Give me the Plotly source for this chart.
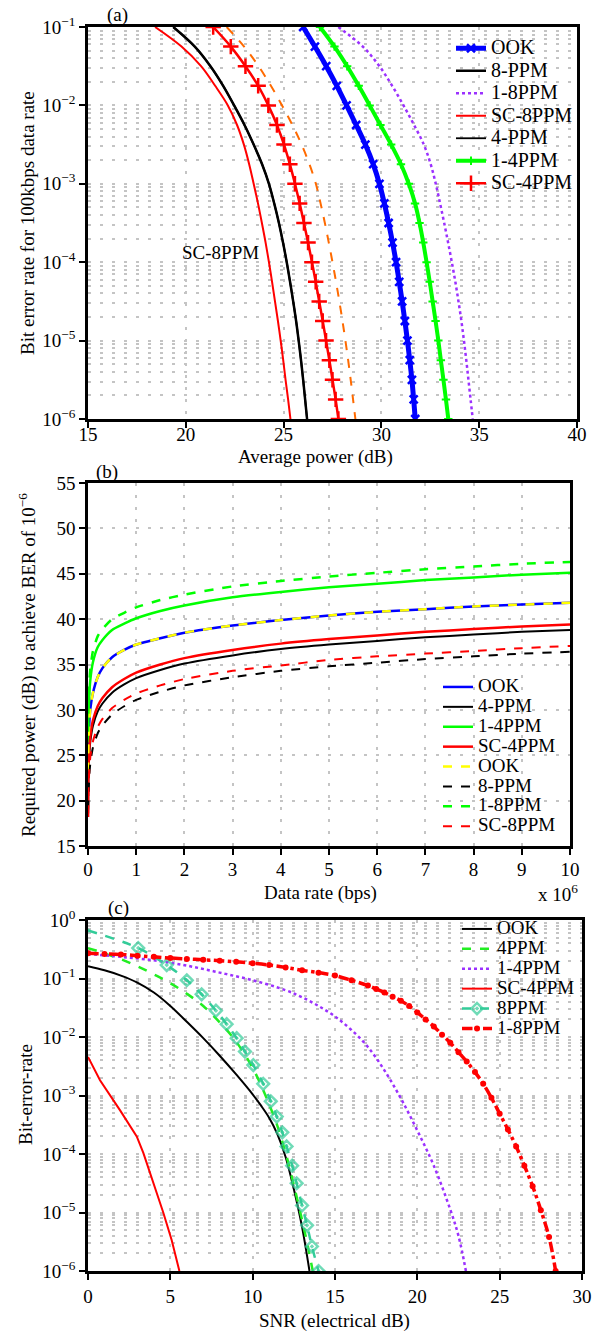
import numpy as np
import plotly.graph_objects as go

W, H = 597, 1334
FONT = "Liberation Serif"

# ---------------- Panel (a): BER vs average power ----------------
ber_exp_a = [-1, -1.25, -1.5, -1.75, -2, -2.25, -2.5, -2.75, -3, -3.25, -3.5,
             -3.75, -4, -4.25, -4.5, -4.75, -5, -5.25, -5.5, -5.75, -6]
pwr_ook_a = [26.0, 26.6, 27.18, 27.72, 28.22, 28.71, 29.18, 29.58, 29.9, 30.15, 30.37,
             30.57, 30.75, 30.91, 31.06, 31.2, 31.33, 31.45, 31.56, 31.65, 31.73]
pwr_8ppm_a = [19.36, 20.46, 21.26, 21.91, 22.47, 23.0, 23.47, 23.9, 24.25, 24.52, 24.76,
              24.97, 25.16, 25.33, 25.49, 25.64, 25.77, 25.89, 26.0, 26.1, 26.2]
pwr_4ppm_a = [19.36, 20.46, 21.26, 21.91, 22.47, 23.0, 23.47, 23.9, 24.25, 24.52, 24.76,
              24.97, 25.16, 25.33, 25.49, 25.64, 25.77, 25.89, 26.0, 26.1, 26.2]
pwr_1_8ppm_a = [27.8, 29.05, 29.9, 30.55, 31.13, 31.67, 32.17, 32.52, 32.78, 33.0, 33.21,
                33.41, 33.6, 33.78, 33.94, 34.09, 34.22, 34.34, 34.45, 34.56, 34.67]
pwr_sc8ppm_a = [18.43, 19.78, 20.78, 21.5, 22.15, 22.62, 22.97, 23.24, 23.47, 23.69, 23.89,
                24.08, 24.25, 24.41, 24.56, 24.71, 24.85, 24.98, 25.1, 25.23, 25.35]
pwr_1_4ppm_a = [26.86, 27.6, 28.25, 28.84, 29.4, 29.95, 30.5, 31.0, 31.4, 31.72, 31.95,
                32.14, 32.31, 32.47, 32.62, 32.77, 32.91, 33.04, 33.17, 33.3, 33.42]
pwr_sc4ppm_a = [21.4, 22.3, 23.05, 23.7, 24.22, 24.66, 25.02, 25.32, 25.58, 25.82, 26.04,
                26.25, 26.45, 26.64, 26.82, 27.0, 27.17, 27.34, 27.5, 27.66, 27.8]
pwr_orange_a = [22.09, 22.98, 23.72, 24.35, 24.92, 25.45, 25.92, 26.32, 26.65, 26.89, 27.11,
                27.31, 27.5, 27.68, 27.85, 28.01, 28.16, 28.3, 28.43, 28.55, 28.67]
xticks_a = [15, 20, 25, 30, 35, 40]
yexp_a = [-6, -5, -4, -3, -2, -1]
ytext_a = ["10<sup>−6</sup>", "10<sup>−5</sup>", "10<sup>−4</sup>", "10<sup>−3</sup>",
           "10<sup>−2</sup>", "10<sup>−1</sup>"]

# ---------------- Panel (b): required power vs data rate (x 1e6 bps) ----------------
rate_b = [0.002, 0.01, 0.03, 0.05, 0.1, 0.2, 0.3, 0.5, 0.75, 1, 1.5, 2, 3, 4, 5, 6, 7, 8, 9, 10]
req_1_4ppm_b = [26.4, 29.4, 32.0, 33.4, 35.2, 36.9, 37.7, 38.8, 39.5, 40.1, 40.9, 41.5, 42.4, 43.0, 43.5, 43.9, 44.3, 44.6, 44.9, 45.1]
req_1_8ppm_b = [27.6, 30.6, 33.2, 34.6, 36.4, 38.1, 38.9, 40.0, 40.7, 41.3, 42.1, 42.7, 43.6, 44.2, 44.7, 45.1, 45.5, 45.8, 46.1, 46.3]
req_ook_b = [23.2, 26.5, 28.9, 30.2, 31.8, 33.6, 34.6, 35.8, 36.6, 37.2, 37.9, 38.5, 39.3, 39.9, 40.4, 40.8, 41.1, 41.4, 41.6, 41.8]
req_sc4ppm_b = [18.2, 23.5, 26.0, 27.2, 28.8, 30.4, 31.3, 32.5, 33.4, 34.1, 35.0, 35.7, 36.6, 37.3, 37.8, 38.2, 38.6, 38.9, 39.2, 39.4]
req_4ppm_b = [18.6, 22.9, 25.4, 26.6, 28.2, 29.8, 30.7, 31.9, 32.8, 33.5, 34.4, 35.1, 36.0, 36.7, 37.2, 37.6, 38.0, 38.3, 38.6, 38.8]
req_sc8ppm_b = [18.5, 21.2, 23.7, 24.9, 26.5, 28.1, 29.0, 30.2, 31.1, 31.8, 32.7, 33.4, 34.3, 34.9, 35.5, 35.9, 36.2, 36.5, 36.8, 37.05]
req_8ppm_b = [19.0, 20.5, 23.0, 24.2, 25.8, 27.4, 28.3, 29.5, 30.4, 31.1, 32.0, 32.7, 33.6, 34.3, 34.8, 35.2, 35.6, 35.9, 36.2, 36.4]
xticks_b = [0, 1, 2, 3, 4, 5, 6, 7, 8, 9, 10]
yticks_b = [15, 20, 25, 30, 35, 40, 45, 50, 55]

# ---------------- Panel (c): BER vs SNR (log10 of BER) ----------------
snr_ook_c = [0, 1, 2, 3, 4, 5, 6, 7, 8, 9, 10, 10.5, 11, 11.5, 12, 12.5, 13, 13.45]
ber_ook_c = [-0.79, -0.86, -0.95, -1.07, -1.24, -1.47, -1.74, -2.02, -2.32, -2.64, -2.98, -3.17,
             -3.38, -3.66, -4.05, -4.6, -5.25, -6.0]
snr_4ppm_c = [0, 1, 2, 3, 4, 5, 6, 7, 8, 9, 10, 10.5, 11, 11.5, 12, 12.5, 13, 13.35, 13.65]
ber_4ppm_c = [-0.48, -0.57, -0.67, -0.79, -0.93, -1.08, -1.26, -1.47, -1.75, -2.08, -2.53, -2.82,
              -3.15, -3.52, -3.98, -4.53, -5.13, -5.58, -6.0]
snr_1_4ppm_c = [0, 2, 4, 6, 8, 10, 12, 13, 14, 15, 16, 17, 18, 19, 20, 21, 22, 22.5, 22.95]
ber_1_4ppm_c = [-0.58, -0.63, -0.69, -0.78, -0.9, -1.03, -1.2, -1.32, -1.47, -1.65, -1.88,
                -2.17, -2.57, -3.05, -3.6, -4.2, -4.95, -5.4, -6.0]
snr_sc4ppm_c = [0, 0.73, 1.94, 2.96, 3.36, 4.07, 4.57, 5.08, 5.55]
ber_sc4ppm_c = [-2.34, -2.74, -3.25, -3.7, -3.98, -4.56, -5.0, -5.47, -6.0]
snr_8ppm_c = [0, 3.05, 4.78, 6.0, 6.9, 7.77, 8.42, 9.03, 9.53, 10.04, 10.64, 11.1, 11.46, 11.8,
              12.06, 12.4, 12.67, 13.0, 13.3, 13.6, 14.0]
ber_8ppm_c = [-0.18, -0.48, -0.77, -1.03, -1.27, -1.55, -1.78, -2.02, -2.25, -2.48, -2.8, -3.1,
              -3.36, -3.63, -3.87, -4.2, -4.5, -4.88, -5.22, -5.58, -6.0]
snr_1_8ppm_c = [0, 1, 2, 3, 4, 5, 6, 7, 8, 9, 10, 11, 12, 13, 14, 15, 16, 17, 17.5, 18, 18.5,
                19, 19.5, 20, 20.5, 21, 21.5, 22, 22.5, 23, 23.5, 24, 24.5, 25, 25.5, 26, 26.5,
                27, 27.5, 28, 28.4]
ber_1_8ppm_c = [-0.57, -0.58, -0.59, -0.61, -0.63, -0.65, -0.665, -0.68, -0.695, -0.715, -0.74,
                -0.77, -0.81, -0.86, -0.9, -0.95, -1.03, -1.12, -1.18, -1.24, -1.31, -1.38,
                -1.47, -1.58, -1.7, -1.82, -1.96, -2.1, -2.26, -2.42, -2.6, -2.8, -3.04, -3.31,
                -3.58, -3.87, -4.2, -4.55, -4.96, -5.42, -6.0]
xticks_c = [0, 5, 10, 15, 20, 25, 30]
yexp_c = [-6, -5, -4, -3, -2, -1, 0]
ytext_c = ["10<sup>−6</sup>", "10<sup>−5</sup>", "10<sup>−4</sup>", "10<sup>−3</sup>",
           "10<sup>−2</sup>", "10<sup>−1</sup>", "10<sup>0</sup>"]


def pw(e):
    return [10.0 ** v for v in e]


def lg(text, size):
    return '<span style="font-size:%dpx">%s</span>' % (size, text)


fig = go.Figure()

# ---- (a) traces ----
LA = 20
fig.add_trace(go.Scatter(x=pwr_ook_a, y=pw(ber_exp_a), name=lg("OOK", LA), mode="lines+markers",
                         line=dict(color="#0000ff", width=5, shape="spline"),
                         marker=dict(symbol="x-thin", size=8, line=dict(color="#0000ff", width=2.5)),
                         xaxis="x", yaxis="y", legend="legend"))
fig.add_trace(go.Scatter(x=pwr_8ppm_a, y=pw(ber_exp_a), name=lg("8-PPM", LA), mode="lines",
                         line=dict(color="black", width=2.5, shape="spline"),
                         xaxis="x", yaxis="y", legend="legend"))
fig.add_trace(go.Scatter(x=pwr_1_8ppm_a, y=pw(ber_exp_a), name=lg("1-8PPM", LA), mode="lines",
                         line=dict(color="#9b30ff", width=2.5, dash="dot", shape="spline"),
                         xaxis="x", yaxis="y", legend="legend"))
fig.add_trace(go.Scatter(x=pwr_sc8ppm_a, y=pw(ber_exp_a), name=lg("SC-8PPM", LA), mode="lines",
                         line=dict(color="#ff0000", width=2, shape="spline"),
                         xaxis="x", yaxis="y", legend="legend"))
fig.add_trace(go.Scatter(x=pwr_4ppm_a, y=pw(ber_exp_a), name=lg("4-PPM", LA), mode="lines",
                         line=dict(color="black", width=1.8, shape="spline"),
                         xaxis="x", yaxis="y", legend="legend"))
fig.add_trace(go.Scatter(x=pwr_1_4ppm_a, y=pw(ber_exp_a), name=lg("1-4PPM", LA), mode="lines+markers",
                         line=dict(color="#00ff00", width=4, shape="spline"),
                         marker=dict(symbol="cross-thin", size=6, line=dict(color="#00ff00", width=2)),
                         xaxis="x", yaxis="y", legend="legend"))
fig.add_trace(go.Scatter(x=pwr_sc4ppm_a, y=pw(ber_exp_a), name=lg("SC-4PPM", LA), mode="lines+markers",
                         line=dict(color="#ff0000", width=2.5, shape="spline"),
                         marker=dict(symbol="cross-thin", size=11, line=dict(color="#ff0000", width=2.5)),
                         xaxis="x", yaxis="y", legend="legend"))
fig.add_trace(go.Scatter(x=pwr_orange_a, y=pw(ber_exp_a), name="orange", mode="lines", showlegend=False,
                         line=dict(color="#ff6a00", width=2, dash="dash", shape="spline"),
                         xaxis="x", yaxis="y"))

# ---- (b) traces ----
LB = 19
bspec = [
    ("OOK", req_ook_b, "#0000ff", "solid", 2.5),
    ("4-PPM", req_4ppm_b, "black", "solid", 2),
    ("1-4PPM", req_1_4ppm_b, "#00ff00", "solid", 2.5),
    ("SC-4PPM", req_sc4ppm_b, "#ff0000", "solid", 2.5),
    ("OOK", req_ook_b, "#ffff00", "dash", 2.5),
    ("8-PPM", req_8ppm_b, "black", "dash", 2),
    ("1-8PPM", req_1_8ppm_b, "#00ff00", "dash", 2.5),
    ("SC-8PPM", req_sc8ppm_b, "#ff0000", "dash", 2),
]
for nm, yy, col, dsh, wd in bspec:
    fig.add_trace(go.Scatter(x=rate_b, y=yy, name=lg(nm, LB), mode="lines",
                             line=dict(color=col, width=wd, dash=dsh, shape="spline", smoothing=0.6),
                             xaxis="x2", yaxis="y2", legend="legend2"))

# ---- (c) traces ----
LC = 19
fig.add_trace(go.Scatter(x=snr_ook_c, y=pw(ber_ook_c), name=lg("OOK", LC), mode="lines",
                         line=dict(color="black", width=2, shape="spline"),
                         xaxis="x3", yaxis="y3", legend="legend3"))
fig.add_trace(go.Scatter(x=snr_4ppm_c, y=pw(ber_4ppm_c), name=lg("4PPM", LC), mode="lines",
                         line=dict(color="#22ee22", width=2.5, dash="dash", shape="spline"),
                         xaxis="x3", yaxis="y3", legend="legend3"))
fig.add_trace(go.Scatter(x=snr_1_4ppm_c, y=pw(ber_1_4ppm_c), name=lg("1-4PPM", LC), mode="lines",
                         line=dict(color="#9b30ff", width=2.5, dash="dot", shape="spline"),
                         xaxis="x3", yaxis="y3", legend="legend3"))
fig.add_trace(go.Scatter(x=snr_sc4ppm_c, y=pw(ber_sc4ppm_c), name=lg("SC-4PPM", LC), mode="lines",
                         line=dict(color="#ff0000", width=2),
                         xaxis="x3", yaxis="y3", legend="legend3"))
msz = [0] + [9] * (len(snr_8ppm_c) - 1)
fig.add_trace(go.Scatter(x=snr_8ppm_c, y=pw(ber_8ppm_c), name=lg("8PPM", LC), mode="lines+markers",
                         line=dict(color="#33cc99", width=2.5, dash="dash", shape="spline"),
                         marker=dict(symbol="diamond-open-dot", size=msz, line=dict(color="#33cc99", width=2.5)),
                         xaxis="x3", yaxis="y3", legend="legend3"))
fig.add_trace(go.Scatter(x=snr_1_8ppm_c, y=pw(ber_1_8ppm_c), name=lg("1-8PPM", LC), mode="lines+markers",
                         line=dict(color="#ff0000", width=3.5, dash="dashdot", shape="spline"),
                         marker=dict(symbol="circle", size=6, color="#ff0000"),
                         xaxis="x3", yaxis="y3", legend="legend3"))


# ---------------- layout ----------------
def dx(p):
    return p / W


def dy(p):
    return 1 - p / H


GRID = dict(showgrid=True, gridcolor="#c4c4c4", gridwidth=1.5, griddash="3px,9px")
AX = dict(showline=True, linecolor="black", linewidth=2.5, mirror=True, ticks="outside",
          ticklen=6, tickwidth=2, tickcolor="black", zeroline=False,
          tickfont=dict(family=FONT, size=19, color="black"), **GRID)

minor_a = [m * 10.0 ** e for e in range(-6, -1) for m in range(2, 10)]
minor_c = [m * 10.0 ** e for e in range(-6, 0) for m in range(2, 10)]
MINOR = dict(showgrid=True, gridcolor="#c4c4c4", gridwidth=1.5, griddash="3px,9px", ticks="")

fig.update_layout(
    width=W, height=H, margin=dict(l=0, r=0, t=0, b=0, autoexpand=False),
    paper_bgcolor="white", plot_bgcolor="white",
    font=dict(family=FONT, size=19, color="black"),
    xaxis=dict(domain=[dx(88), dx(577)], range=[15, 40], tickvals=xticks_a, anchor="y",
               ticklabelstandoff=-10, **AX),
    yaxis=dict(domain=[dy(419), dy(27)], type="log", range=[-6, -1], tickmode="array",
               tickvals=pw(yexp_a), ticktext=ytext_a, anchor="x",
               minor=dict(tickmode="array", tickvals=minor_a, **MINOR), **AX),
    xaxis2=dict(domain=[dx(88), dx(570)], range=[0, 10], tickvals=xticks_b, anchor="y2",
                ticklabelstandoff=-2, **AX),
    yaxis2=dict(domain=[dy(846), dy(483)], range=[15, 55], tickvals=yticks_b, anchor="x2", **AX),
    xaxis3=dict(domain=[dx(88), dx(582)], range=[0, 30], tickvals=xticks_c, anchor="y3", **AX),
    yaxis3=dict(domain=[dy(1271), dy(920)], type="log", range=[-6, 0], tickmode="array",
                tickvals=pw(yexp_c), ticktext=ytext_c, anchor="x3",
                minor=dict(tickmode="array", tickvals=minor_c, **MINOR), **AX),
    legend=dict(x=dx(451), y=dy(32), xanchor="left", yanchor="top", bgcolor="rgba(0,0,0,0)",
                font=dict(family=FONT, size=15, color="black"), tracegroupgap=0),
    legend2=dict(x=dx(438), y=dy(672), xanchor="left", yanchor="top", bgcolor="rgba(0,0,0,0)",
                 font=dict(family=FONT, size=13, color="black"), tracegroupgap=0),
    legend3=dict(x=dx(457), y=dy(914), xanchor="left", yanchor="top", bgcolor="rgba(0,0,0,0)",
                 font=dict(family=FONT, size=13, color="black"), tracegroupgap=0),
    showlegend=True,
)

ann = []


def text(x, y, t, size=19, angle=0, xa="center"):
    ann.append(dict(x=dx(x), y=dy(y), xref="paper", yref="paper", text=t, showarrow=False,
                    xanchor=xa, yanchor="middle", textangle=angle,
                    font=dict(family=FONT, size=size, color="black")))


text(117, 15, "(a)")
text(107, 472, "(b)")
text(118, 908, "(c)")
text(315, 457, "Average power (dB)")
text(27, 223, "Bit error rate for 100kbps data rate", angle=-90)
text(320, 893, "Data rate (bps)")
text(558, 893, "x 10<sup>6</sup>")
text(27, 665, "Required power (dB) to achieve BER of 10<sup>−6</sup>", angle=-90)
text(335, 1321, "SNR (electrical dB)")
text(25, 1095, "Bit-error-rate", angle=-90)
# in-plot label of panel (a)
ann.append(dict(x=21.75, y=-3.87, xref="x", yref="y", text="SC-8PPM", showarrow=False,
                font=dict(family=FONT, size=19, color="black")))
fig.update_layout(annotations=ann)

fig.write_html("out.html", config={"displayModeBar": False},
               post_script="document.body.style.margin='0px';document.body.style.padding='0px';"
                           "document.body.style.overflow='hidden';")
